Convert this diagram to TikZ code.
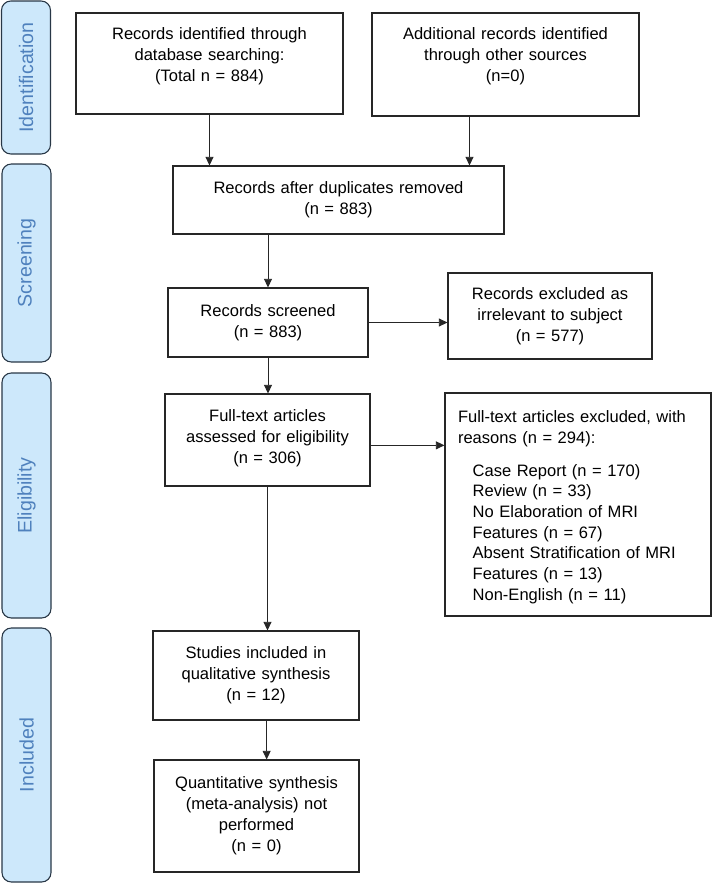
\documentclass[tikz,border=0pt]{standalone}
\usepackage{fontspec}
\setmainfont{Liberation Sans}
\usetikzlibrary{arrows.meta}
\definecolor{barfill}{RGB}{205,232,251}
\definecolor{bartext}{RGB}{79,129,189}
\definecolor{barline}{RGB}{40,55,70}

\begin{document}
\begin{tikzpicture}[x=0.75pt,y=-0.75pt,
  box/.style 2 args={draw=black!85,line width=0.8pt,align=center,inner xsep=0pt,
    text width=#1,minimum height=#2,font=\fontsize{12.4}{15.75}\selectfont},
  phase/.style={draw=barline,line width=0.8pt,fill=barfill,rounded corners=7pt,
    rotate=90,minimum height=36.75pt,text=bartext,font=\fontsize{14.7}{17}\selectfont},
  arr/.style={-{Triangle[length=6.5pt,width=6pt]},line width=0.7pt,black!85}]

\useasboundingbox (0,0) rectangle (713,883);

\node[phase,minimum width=114.75pt] (identbar) at (26,77.5) {Identification};
\node[phase,minimum width=148.5pt] (screenbar) at (26.5,263) {Screening};
\node[phase,minimum width=183.75pt] (eligbar) at (26.5,495.5) {Eligibility};
\node[phase,minimum width=190.5pt] (inclbar) at (26.5,755) {Included};

\node[box={200.25pt}{75.75pt}] (ident) at (209.5,63.5)
  {Records identified through\\database searching:\\(Total n = 884)\par\kern11pt};
\node[box={200.25pt}{77.25pt}] (addl) at (505.5,64.5)
  {Additional records identified\\through other sources\\(n=0)\par\kern13pt};
\node[box={248.25pt}{51pt}] (dup) at (338.5,200)
  {Records after duplicates removed\\(n = 883)};
\node[box={150pt}{51.75pt}] (screen) at (268,322.5)
  {Records screened\\(n = 883)};
\node[box={153pt}{64.5pt}] (excl) at (550,316)
  {Records excluded as\\irrelevant to subject\\(n = 577)};
\node[box={153.75pt}{69pt}] (full) at (267.5,440)
  {Full-text articles\\assessed for eligibility\\(n = 306)\par\kern2pt};
\node[box={180pt}{167.25pt},align=left,inner xsep=9.75pt,
  font=\fontsize{12.4}{15.5}\selectfont] (reason) at (578,504.5)
  {Full-text articles excluded, with\\reasons (n = 294):\\[9pt]
   \hspace*{11pt}Case Report (n = 170)\\
   \hspace*{11pt}Review (n = 33)\\
   \hspace*{11pt}No Elaboration of MRI\\
   \hspace*{11pt}Features (n = 67)\\
   \hspace*{11pt}Absent Stratification of MRI\\
   \hspace*{11pt}Features (n = 13)\\
   \hspace*{11pt}Non-English (n = 11)\par\kern-4pt};
\node[box={154.5pt}{66.75pt}] (qual) at (256,675.5)
  {Studies included in\\qualitative synthesis\\(n = 12)};
\node[box={153.75pt}{84pt}] (quant) at (256.5,816)
  {Quantitative synthesis\\(meta-analysis) not\\performed\\(n = 0)};

\coordinate (addlout) at ([xshift=-27pt]addl.south);
\coordinate (fullout) at ([yshift=-4pt]full.east);
\coordinate (qualout) at ([xshift=8pt]qual.south);

\draw[arr] (ident.south) -- (ident.south |- dup.north);
\draw[arr] (addlout) -- (addlout |- dup.north);
\draw[arr] (dup.south -| screen.north) -- (screen.north);
\draw[arr] (screen.east) -- (screen.east -| excl.west);
\draw[arr] (screen.south) -- (screen.south |- full.north);
\draw[arr] (fullout) -- (fullout -| reason.west);
\draw[arr] (full.south) -- (full.south |- qual.north);
\draw[arr] (qualout) -- (qualout |- quant.north);

\end{tikzpicture}
\end{document}
